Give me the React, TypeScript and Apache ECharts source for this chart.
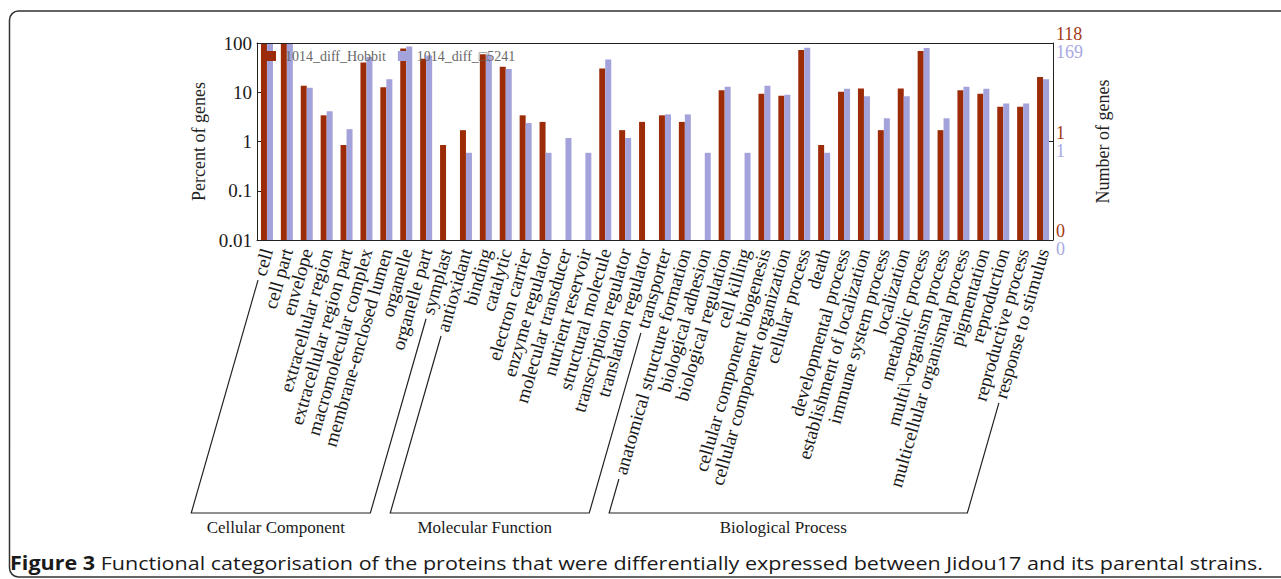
import React, { useEffect, useRef } from 'react';
import * as echarts from 'echarts';

const categories = [
  'cell', 'cell part', 'envelope', 'extracellular region', 'extracellular region part',
  'macromolecular complex', 'membrane-enclosed lumen', 'organelle', 'organelle part', 'symplast',
  'antioxidant', 'binding', 'catalytic', 'electron carrier', 'enzyme regulator',
  'molecular transducer', 'nutrient reservoir', 'structural molecule', 'transcription regulator',
  'translation regulator', 'transporter',
  'anatomical structure formation', 'biological adhesion', 'biological regulation', 'cell killing',
  'cellular component biogenesis', 'cellular component organization', 'cellular process', 'death',
  'developmental process', 'establishment of localization', 'immune system process', 'localization',
  'metabolic process', 'multi\\-organism process', 'multicellular organismal process', 'pigmentation',
  'reproduction', 'reproductive process', 'response to stimulus',
];

const hobbit = [
  95, 95, 13.6, 3.4, 0.85, 40, 12.7, 77, 48, 0.85,
  1.7, 59, 33, 3.4, 2.5, null, null, 30.5, 1.7, 2.5, 3.4,
  2.5, null, 11.0, null, 9.3, 8.5, 72, 0.85, 10.2, 11.9, 1.7, 11.9, 68.6, 1.7, 11.0, 9.3, 5.1, 5.1, 20.3,
];

const other = [
  95, 95, 12.4, 4.1, 1.78, 52, 18.3, 85, 56, null,
  0.59, 58, 29.6, 2.37, 0.59, 1.18, 0.59, 46, 1.18, null, 3.55,
  3.55, 0.59, 13.0, 0.59, 13.6, 8.9, 80, 0.59, 11.8, 8.3, 2.96, 8.3, 79.3, 2.96, 13.0, 11.8, 5.9, 5.9, 18.3,
];

const seriesNames = ['1014_diff_Hobbit', '1014_diff_\u25a15241'];
const rightLabelsHobbit = ['0', '1', '118'];
const rightLabelsOther = ['0', '1', '169'];

const groupNames = ['Cellular Component', 'Molecular Function', 'Biological Process'];
const groupFirst = [0, 10, 21];
const groupLast = [9, 20, 39];

const captionBold = 'Figure 3';
const captionText = 'Functional categorisation of the proteins that were differentially expressed between Jidou17 and its parental strains.';

const RED = '#9c2b08';
const LAV = '#a3a2da';
const SERIF = '"Liberation Serif", "Times New Roman", serif';
const SANS = '"Liberation Sans Narrow", "Open Sans", "Noto Sans", sans-serif';

export default function App() {
  const ref = useRef<HTMLDivElement>(null);

  useEffect(() => {
    const el = ref.current!;
    const chart = echarts.init(el, null, { renderer: 'svg' });

    const gridLeft = 257;
    const gridTop = 43;
    const gridRight = 228;
    const gridBottom = 339;
    const labelSize = 19;
    const labelRotate = 74;
    const labelMargin = 9;

    chart.setOption({
      animation: false,
      backgroundColor: '#fff',
      grid: { left: gridLeft, top: gridTop, right: gridRight, bottom: gridBottom, outerBoundsMode: 'none' },
      legend: {
        data: seriesNames,
        left: 266,
        top: 49,
        padding: 0,
        itemWidth: 10,
        itemHeight: 10,
        itemGap: 12,
        icon: 'rect',
        textStyle: { fontFamily: SERIF, fontSize: 14, color: '#666', padding: [0, 0, 0, 4] },
      },
      xAxis: [
        {
          type: 'category',
          data: categories,
          position: 'bottom',
          axisLine: { lineStyle: { color: '#222', width: 1 } },
          axisTick: { inside: true, length: 4, lineStyle: { color: '#222' } },
          axisLabel: {
            interval: 0,
            rotate: labelRotate,
            margin: labelMargin,
            fontFamily: SERIF,
            fontSize: labelSize,
            color: '#1a1a1a',
          },
        },
        {
          type: 'category',
          data: categories,
          position: 'top',
          axisLine: { lineStyle: { color: '#222', width: 1 } },
          axisTick: { inside: true, length: 4, lineStyle: { color: '#222' } },
          axisLabel: { show: false },
        },
      ],
      yAxis: [
        {
          type: 'log',
          logBase: 10,
          min: 0.01,
          max: 100,
          startValue: 0.01,
          position: 'left',
          name: 'Percent of genes',
          nameLocation: 'middle',
          nameGap: 36,
          nameTextStyle: { fontFamily: SERIF, fontSize: 18, color: '#222' },
          axisLine: { show: true, lineStyle: { color: '#222', width: 1 } },
          axisTick: { show: true, inside: true, length: 5, lineStyle: { color: '#222' } },
          splitLine: { show: false },
          minorTick: { show: false },
          axisLabel: {
            margin: 5,
            fontFamily: SERIF,
            fontSize: 19,
            color: '#1a1a1a',
            formatter: (v: number) => String(Number(v.toPrecision(3))),
          },
        },
        {
          type: 'value',
          min: 0,
          max: 4,
          interval: 2,
          position: 'right',
          name: 'Number of genes',
          nameLocation: 'middle',
          nameGap: 31,
          nameTextStyle: { fontFamily: SERIF, fontSize: 18, color: '#222' },
          axisLine: { show: true, lineStyle: { color: '#222', width: 1 } },
          axisTick: { show: true, inside: true, length: 5, lineStyle: { color: '#222' } },
          splitLine: { show: false },
          axisLabel: {
            margin: 3,
            formatter: (v: number) => {
              const i = Math.round(v / 2);
              return `{r|${rightLabelsHobbit[i]}}\n{b|${rightLabelsOther[i]}}`;
            },
            rich: {
              r: { fontFamily: SERIF, fontSize: 18, color: '#a33a14', lineHeight: 18 },
              b: { fontFamily: SERIF, fontSize: 18, color: '#a9a8e2', lineHeight: 18 },
            },
          },
        },
      ],
      series: [
        {
          name: seriesNames[0],
          type: 'bar',
          xAxisIndex: 0,
          yAxisIndex: 0,
          data: hobbit.map((v) => (v == null ? '-' : v)),
          barWidth: 6,
          barGap: '0%',
          itemStyle: { color: RED },
        },
        {
          name: seriesNames[1],
          type: 'bar',
          xAxisIndex: 0,
          yAxisIndex: 0,
          data: other.map((v) => (v == null ? '-' : v)),
          barWidth: 6,
          barGap: '0%',
          itemStyle: { color: LAV },
        },
      ],
    });

    // Brackets under the category labels, following the rotated labels
    const ctx = document.createElement('canvas').getContext('2d')!;
    ctx.font = `${labelSize}px ${SERIF}`;
    const theta = (labelRotate * Math.PI) / 180;
    const dx = -Math.cos(theta);
    const dy = Math.sin(theta);
    const axisY = 579 - gridBottom;
    const baseY = 513;
    const gap = 5;
    const labelStart = (i: number) => {
      const cx = chart.convertToPixel({ xAxisIndex: 0 }, categories[i]) as number;
      const w = ctx.measureText(categories[i]).width + gap;
      return [cx + dx * w, axisY + labelMargin + dy * w];
    };
    const toBase = (p: number[]) => {
      const t = (baseY - p[1]) / dy;
      return [p[0] + dx * t, baseY];
    };

    const graphics: any[] = [];
    graphics.push({
      type: 'rect',
      silent: true,
      z: -10,
      shape: { x: 9.5, y: 11, width: 1300, height: 566, r: 9 },
      style: { fill: 'none', stroke: '#333', lineWidth: 1.5 },
    });
    for (let g = 0; g < groupNames.length; g++) {
      const a = labelStart(groupFirst[g]);
      const b = labelStart(groupLast[g]);
      const a2 = toBase(a);
      const b2 = toBase(b);
      graphics.push({
        type: 'polyline',
        silent: true,
        shape: { points: [a, a2, b2, b] },
        style: { stroke: '#222', lineWidth: 1.2, fill: null },
      });
      graphics.push({
        type: 'text',
        silent: true,
        x: (a2[0] + b2[0]) / 2 - 5,
        y: baseY + 14,
        style: {
          text: groupNames[g],
          font: `17px ${SERIF}`,
          fill: '#1a1a1a',
          align: 'center',
          verticalAlign: 'middle',
        },
      });
    }

    // Caption
    const capSize = 19;
    ctx.font = `bold ${capSize}px ${SANS}`;
    const wB = ctx.measureText(captionBold).width;
    ctx.font = `${capSize}px ${SANS}`;
    const wN = ctx.measureText(' ' + captionText).width;
    const capScale = 1253 / (wB + wN);
    graphics.push({
      type: 'text',
      silent: true,
      x: 10,
      y: 563,
      scaleX: capScale,
      style: {
        text: `{b|${captionBold}}{n| ${captionText}}`,
        rich: {
          b: { font: `bold ${capSize}px ${SANS}`, fill: '#1a1a1a' },
          n: { font: `${capSize}px ${SANS}`, fill: '#1a1a1a' },
        },
        verticalAlign: 'middle',
      },
    });

    chart.setOption({ graphic: graphics });

    return () => chart.dispose();
  }, []);

  return <div ref={ref} style={{ position: 'fixed', left: 0, top: 0, width: 1281, height: 579 }} />;
}
